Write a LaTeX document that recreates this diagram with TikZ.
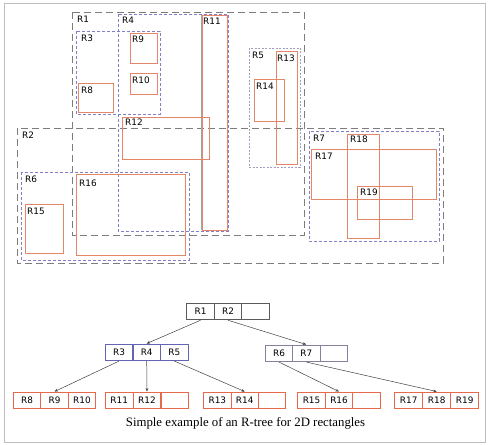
\documentclass[tikz,border=0pt]{standalone}
\usepackage{fontspec}
\setmainfont{Liberation Serif}
\newfontfamily\lblfont{DejaVu Sans}
\usetikzlibrary{arrows.meta}
\definecolor{frameC}{RGB}{190,190,190}
\definecolor{grayD}{RGB}{125,125,125}
\definecolor{blueD}{RGB}{128,128,200}
\definecolor{dotC}{RGB}{160,160,190}
\definecolor{leafC}{RGB}{228,135,105}
\definecolor{rootC}{RGB}{90,90,90}
\definecolor{midL}{RGB}{100,100,180}
\definecolor{midR}{RGB}{130,130,160}
\definecolor{leafT}{RGB}{230,105,75}
\tikzset{
  bigdash/.style={draw=grayD, line width=0.9pt, dash pattern=on 7pt off 4pt},
  bluedash/.style={draw=blueD, line width=0.8pt, dash pattern=on 3pt off 2pt},
  dotdash/.style={draw=dotC, line width=0.9pt, dash pattern=on 2pt off 1.5pt},
  leafbox/.style={draw=leafC, line width=0.8pt},
  lbl/.style={anchor=north west, inner sep=0pt, font=\lblfont\fontsize{8.9}{10}\selectfont},
  cell/.style={draw, line width=0.8pt, minimum height=16.7pt, minimum width=27.5pt, inner sep=0pt, font=\lblfont\fontsize{8.9}{10}\selectfont},
  rootcell/.style={cell, draw=rootC},
  midlcell/.style={cell, draw=midL},
  midrcell/.style={cell, draw=midR},
  leafcell/.style={cell, draw=leafT},
  link/.style={draw=black!75, line width=0.5pt, -{Stealth[length=3.5pt,width=2.8pt]}}
}
\begin{document}
\begin{tikzpicture}[x=1pt,y=-1pt]
\useasboundingbox (0,0) rectangle (489,444);
\draw[frameC, line width=0.8pt] (4,3) rectangle (485,442);

% upper-level regions
\draw[bigdash] (72,12) rectangle (304,235);
\node[lbl] (l1) at (77,16) {R1};
\draw[bigdash] (17,128) rectangle (443,263);
\node[lbl] (l2) at (22,132) {R2};

\draw[bluedash] (76,31) rectangle (160,114);
\node[lbl] (l3) at (81,35) {R3};
\draw[bluedash] (118,14) rectangle (228,231);
\node[lbl] (l4) at (122,17) {R4};
\draw[dotdash] (249,48) rectangle (300,167);
\node[lbl] (l5) at (252,52) {R5};
\draw[bluedash] (21,172) rectangle (189,260);
\node[lbl] (l6) at (25,176) {R6};
\draw[bluedash] (309,131) rectangle (439,241);
\node[lbl] (l7) at (313,135) {R7};

% leaf regions
\draw[leafbox] (78,83) rectangle (113,112);
\node[lbl] (l8) at (81,87) {R8};
\draw[leafbox] (130,33) rectangle (157,63);
\node[lbl] (l9) at (132,36) {R9};
\draw[leafbox] (130,73) rectangle (157,94);
\node[lbl] (l10) at (132,77) {R10};
\draw[draw=grayD!70, line width=0.8pt] (201,230) -- (201,15);
\draw[leafbox] (202,15) rectangle (227,230);
\node[lbl] (l11) at (203,18) {R11};
\draw[leafbox] (122,117) rectangle (209,159);
\node[lbl] (l12) at (125,119) {R12};
\draw[leafbox] (276,51) rectangle (297,164);
\node[lbl] (l13) at (277,55) {R13};
\draw[leafbox] (254,79) rectangle (284,121);
\node[lbl] (l14) at (256,83) {R14};
\draw[leafbox] (25,204) rectangle (63,253);
\node[lbl] (l15) at (27,208) {R15};
\draw[leafbox] (76,174) rectangle (185,255);
\node[lbl] (l16) at (79,180) {R16};
\draw[leafbox] (311,149) rectangle (436,199);
\node[lbl] (l17) at (315,153) {R17};
\draw[leafbox] (347,134) rectangle (379,238);
\node[lbl] (l18) at (350,136) {R18};
\draw[leafbox] (357,186) rectangle (412,219);
\node[lbl] (l19) at (360,189) {R19};

% tree: root
\node[rootcell] (r1) at (200.5,311.5) {R1};
\node[rootcell] (r2) at (228,311.5) {R2};
\node[rootcell] (r0) at (255.5,311.5) {};

% level 2
\node[midlcell] (r3) at (119.1,352.3) {R3};
\node[midlcell] (r4) at (146.7,352.3) {R4};
\node[midlcell] (r5) at (174.3,352.3) {R5};
\node[midrcell] (r6) at (279,353.3) {R6};
\node[midrcell] (r7) at (306.3,353.3) {R7};
\node[midrcell] (rx) at (333.7,353.3) {};

% leaves
\node[leafcell] (t8) at (27.05,400.3) {R8};
\node[leafcell] (t9) at (54.5,400.3) {R9};
\node[leafcell] (t10) at (81.95,400.3) {R10};
\node[leafcell] (t11) at (119.2,400.3) {R11};
\node[leafcell] (t12) at (147,400.3) {R12};
\node[leafcell] (ta) at (174.8,400.3) {};
\node[leafcell] (t13) at (217.4,400.3) {R13};
\node[leafcell] (t14) at (244.7,400.3) {R14};
\node[leafcell] (tb) at (272,400.3) {};
\node[leafcell] (t15) at (311.5,400.3) {R15};
\node[leafcell] (t16) at (339,400.3) {R16};
\node[leafcell] (tc) at (366.5,400.3) {};
\node[leafcell, minimum width=28pt] (t17) at (408.7,400.3) {R17};
\node[leafcell, minimum width=28pt] (t18) at (436.7,400.3) {R18};
\node[leafcell, minimum width=28pt] (t19) at (464.7,400.3) {R19};

% links
\draw[link] (r1.south) -- (r4.north);
\draw[link] (r2.south) -- (r7.north);
\draw[link] (r3.south) -- (t9.north);
\draw[link] (r4.south) -- (t12.north);
\draw[link] (r5.south) -- (t14.north);
\draw[link] (r6.south) -- (t16.north);
\draw[link] (r7.south) -- (t18.north);

\node[font=\fontsize{12.8}{15}\selectfont, inner sep=0pt] (cap) at (245.5,423) {Simple example of an R-tree for 2D rectangles};
\end{tikzpicture}
\end{document}
